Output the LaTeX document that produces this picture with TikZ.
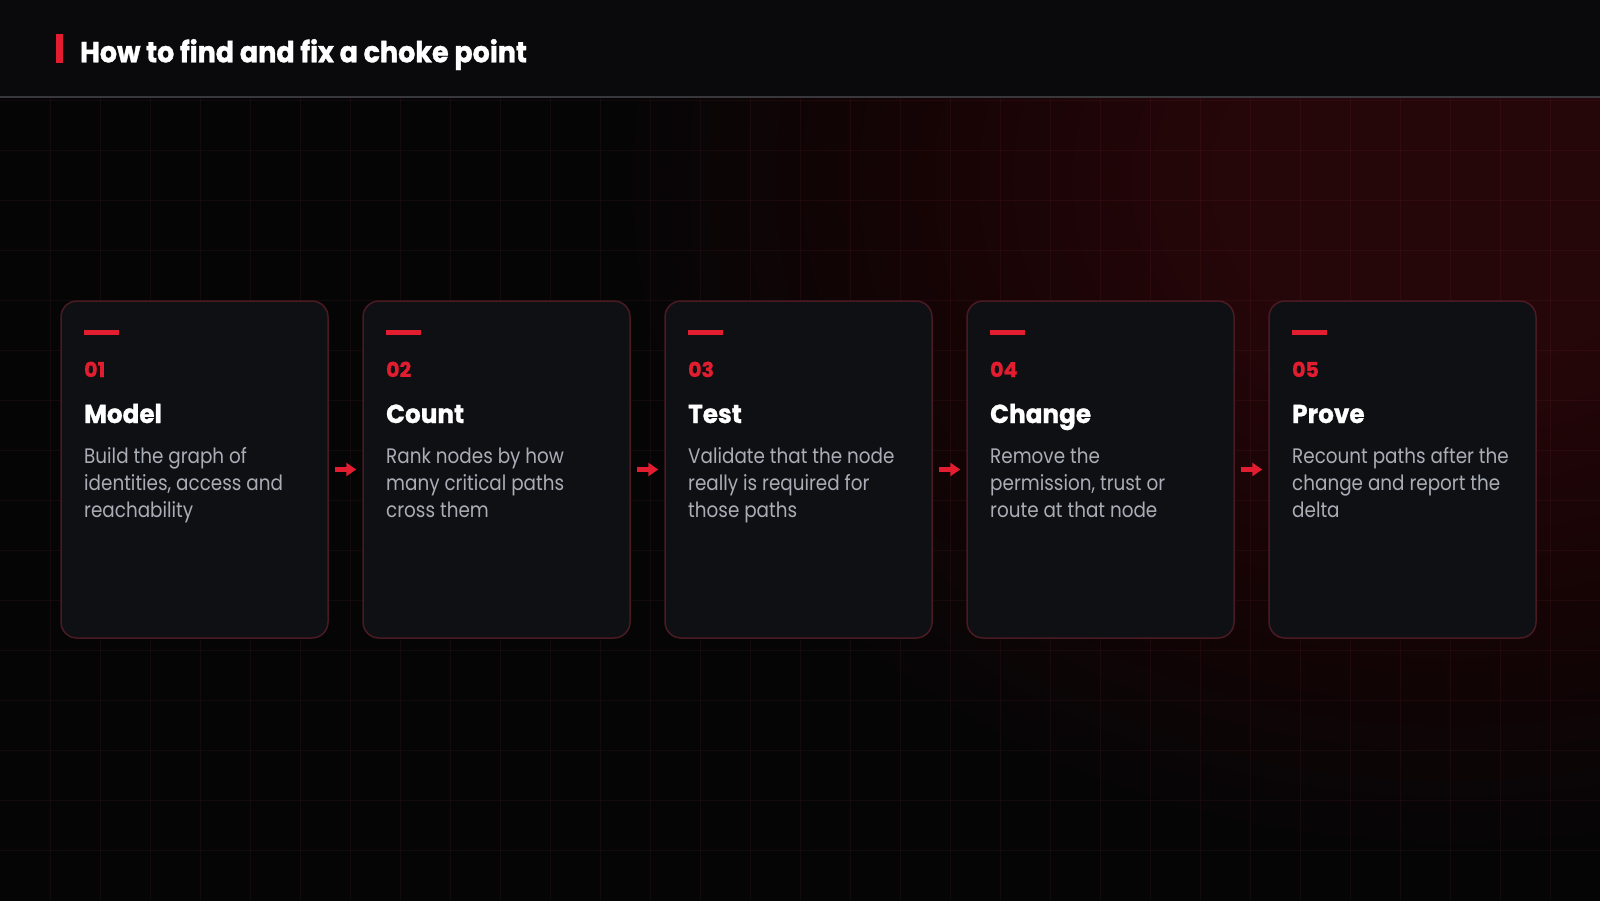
\documentclass[tikz,border=0pt]{standalone}
\usepackage{fontspec}
\setmainfont{Poppins}
\newfontfamily\titlef{Poppins}[FakeStretch=0.93, FakeBold=1.2]
\newfontfamily\headf{Poppins}[FakeStretch=0.95, FakeBold=1]
\newfontfamily\numf{Poppins}[FakeStretch=1.0, FakeBold=1]
\newfontfamily\bodyf{Poppins}[FakeStretch=0.875]
\usetikzlibrary{arrows.meta}
\definecolor{bgc}{HTML}{050506}
\definecolor{headc}{HTML}{0A0A0C}
\definecolor{headline}{HTML}{37373C}
\definecolor{glowc}{HTML}{250609}
\definecolor{glowm}{HTML}{170405}
\definecolor{cardfill}{HTML}{0F1014}
\definecolor{cardline}{HTML}{4A1A22}
\definecolor{accent}{HTML}{E11D2F}
\definecolor{bodyc}{HTML}{A9ADB5}
\definecolor{gridc}{HTML}{FF7080}
\pgfdeclareradialshading{glowshade}{\pgfpoint{0bp}{0bp}}{color(0bp)=(glowc); color(2.5bp)=(glowc); color(5.5bp)=(glowm); color(9.2bp)=(bgc); color(25bp)=(bgc)}
\tikzset{
  card/.style={draw=cardline, fill=cardfill, line width=1.5pt, rounded corners=16pt,
    minimum width=267pt, minimum height=337pt, inner sep=0pt},
  gridline/.style={draw=gridc, opacity=0.055, line width=1pt},
  flow/.style={draw=accent, line width=4.5pt, -{Triangle[length=10pt,width=13pt]},
    shorten <=6pt, shorten >=6pt},
  numtext/.style={anchor=base west, inner sep=0pt, text=accent, font=\numf\bfseries\fontsize{20.5}{24}\selectfont},
  ttltext/.style={anchor=base west, inner sep=0pt, text=white, font=\headf\bfseries\fontsize{26}{30}\selectfont},
  bodytext/.style={anchor=base west, inner sep=0pt, text=bodyc, font=\bodyf\fontsize{21}{27}\selectfont},
  headtext/.style={anchor=base west, inner sep=0pt, text=white, font=\titlef\bfseries\fontsize{29}{34}\selectfont}
}
\begin{document}
\begin{tikzpicture}[x=1pt, y=-1pt]
\useasboundingbox (0,0) rectangle (1600,900);
\fill[bgc] (0,0) rectangle (1600,900);
\begin{scope}
  \clip (0,96) rectangle (1600,900);
  \shade[shading=glowshade] (1450,180) ellipse [x radius=2300, y radius=1860];
  \foreach \gx in {50,100,...,1550} \draw[gridline] (\gx,96) -- (\gx,900);
  \foreach \gy in {100,150,...,850} \draw[gridline] (0,\gy) -- (1600,\gy);
\end{scope}
\fill[headc] (0,0) rectangle (1600,96);
\fill[headline] (0,96) rectangle (1600,98);
\fill[accent] (56,34) rectangle (63,63);
\node[headtext] (title) at (80,62.3) {How to find and fix a choke point};
\foreach \i/\num/\ttl/\la/\lb/\lc in {
  1/01/Model/{Build the graph of}/{identities, access and}/{reachability},
  2/02/Count/{Rank nodes by how}/{many critical paths}/{cross them},
  3/03/Test/{Validate that the node}/{really is required for}/{those paths},
  4/04/Change/{Remove the}/{permission, trust or}/{route at that node},
  5/05/Prove/{Recount paths after the}/{change and report the}/{delta}}{
  \pgfmathsetmacro\x{61+302*(\i-1)}
  \pgfmathsetmacro\cx{\x+133.5}
  \pgfmathsetmacro\tx{\x+23}
  \node[card] (c\i) at (\cx,469.5) {};
  \fill[accent] (\tx,330) rectangle ++(35,5);
  \node[numtext] (n\i) at (\tx,377) {\num};
  \node[ttltext] (t\i) at (\tx,423) {\ttl};
  \node[bodytext] (ba\i) at (\tx,463) {\la};
  \node[bodytext] (bb\i) at (\tx,490) {\lb};
  \node[bodytext] (bc\i) at (\tx,517) {\lc};
}
\foreach \a/\b in {1/2,2/3,3/4,4/5}
  \draw[flow] (c\a.east) -- (c\b.west);
\end{tikzpicture}
\end{document}
